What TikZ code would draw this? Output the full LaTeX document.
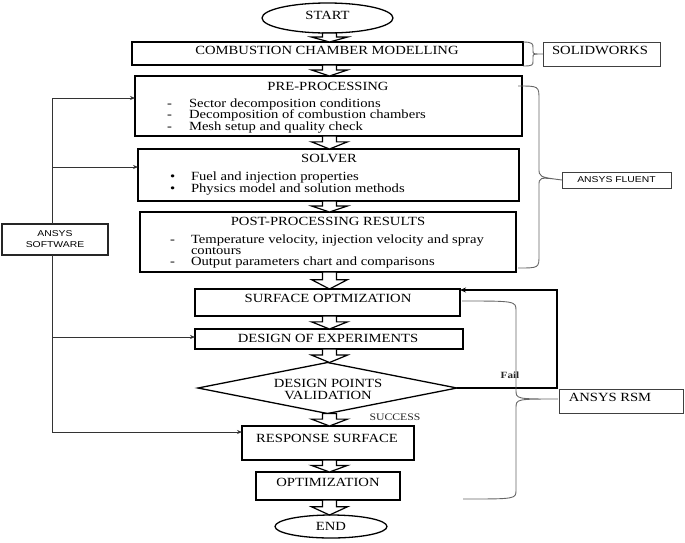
\documentclass[tikz,border=0pt]{standalone}
\usepackage{fontspec}
\setmainfont{Liberation Serif}[FakeStretch=1.17]
\newfontfamily\sansf{Liberation Sans}[FakeStretch=1.22]
\usetikzlibrary{arrows.meta,shapes.geometric,calc}
\begin{document}
\begin{tikzpicture}[x=1pt,y=-1pt,
  every node/.style={inner sep=0pt,outer sep=0pt},
  mainbox/.style={draw=black,line width=1.7pt,fill=white,rectangle},
  sidebox/.style={draw=black!75,line width=1pt,rectangle},
  ttl/.style={font=\fontsize{12.5}{12}\selectfont,text=black,text height=8.5pt,text depth=2.5pt},
  itm/.style={ttl,anchor=west},
  sans/.style={font=\sansf\fontsize{8.5}{11}\selectfont,text=black},
  barrow/.style={draw=black,line width=1.2pt,fill=white,line join=miter,
    to path={let \p1=(\tikztostart),\p2=(\tikztotarget),\n1={\y1-\y2} in
      ({\x1-7pt},\y1) -- ({\x1+7pt},\y1) -- ({\x1+7pt},{\y1-0.45*\n1}) -- ({\x1+18pt},{\y1-0.45*\n1})
      -- (\x1,\y2) -- ({\x1-18pt},{\y1-0.45*\n1}) -- ({\x1-7pt},{\y1-0.45*\n1}) -- cycle}},
  wire/.style={draw=black!80,line width=0.8pt},
  conn/.style={wire,-{Stealth[length=5pt,width=4pt]}},
  loopline/.style={draw=black,line width=1.5pt,-{Stealth[length=6pt,width=5pt]}},
  brace/.style={draw=black!60,line width=0.9pt},
]
\useasboundingbox (0,0) rectangle (685,542);

% main flow
\node[ellipse,draw,line width=1.3pt,minimum width=131,minimum height=30] (start) at (327.5,18) {};
\node[ttl] (startt) at (327.5,16) {START};

\node[mainbox,minimum width=391,minimum height=23] (ccm) at (327.5,53.5) {};
\node[ttl] (ccmt) at (327,51) {COMBUSTION CHAMBER MODELLING};

\node[mainbox,minimum width=387,minimum height=60] (pre) at (328.5,106) {};
\node[ttl] (pret) at (328,87) {PRE-PROCESSING};
\node[itm] (pred1) at (167,104) {-};
\node[itm] (pre1) at (189,104) {Sector decomposition conditions};
\node[itm] (pred2) at (167,115.5) {-};
\node[itm] (pre2) at (189,115.5) {Decomposition of combustion chambers};
\node[itm] (pred3) at (167,127) {-};
\node[itm] (pre3) at (189,127) {Mesh setup and quality check};

\node[mainbox,minimum width=381,minimum height=52] (solver) at (328.5,175) {};
\node[ttl] (solvert) at (329,159) {SOLVER};
\node[itm] (solb1) at (170,177) {\textbullet};
\node[itm] (sol1) at (191,177) {Fuel and injection properties};
\node[itm] (solb2) at (170,189) {\textbullet};
\node[itm] (sol2) at (191,189) {Physics model and solution methods};

\node[mainbox,minimum width=376,minimum height=60] (post) at (328,242) {};
\node[ttl] (postt) at (328,222) {POST-PROCESSING RESULTS};
\node[itm] (postd1) at (170,240) {-};
\node[itm] (post1) at (191,240) {Temperature velocity, injection velocity and spray};
\node[itm] (post1b) at (191,251) {contours};
\node[itm] (postd2) at (170,262) {-};
\node[itm] (post2) at (191,262) {Output parameters chart and comparisons};

\node[mainbox,minimum width=265,minimum height=27] (surf) at (327.5,302.5) {};
\node[ttl] (surft) at (328,299) {SURFACE OPTMIZATION};

\node[mainbox,minimum width=268,minimum height=20] (doe) at (329,339) {};
\node[ttl] (doet) at (328,339) {DESIGN OF EXPERIMENTS};

\node[diamond,draw,line width=1.3pt,fill=white,minimum width=259,minimum height=51] (dia) at (327.5,388) {};
\node[ttl] (diat1) at (328,384) {DESIGN POINTS};
\node[ttl] (diat2) at (328,396) {VALIDATION};

\node[mainbox,minimum width=172,minimum height=34] (resp) at (328,443) {};
\node[ttl] (respt) at (327,439) {RESPONSE SURFACE};

\node[mainbox,minimum width=144,minimum height=28] (opt) at (328,486) {};
\node[ttl] (optt) at (328,483) {OPTIMIZATION};

\node[ellipse,draw,line width=1.3pt,minimum width=112,minimum height=23] (end) at (331,526.5) {};
\node[ttl] (endt) at (331,527) {END};

% side boxes
\node[sidebox,minimum width=117,minimum height=24] (sw) at (601.5,54) {};
\node[ttl] (swt) at (600,51) {SOLIDWORKS};
\node[sidebox,minimum width=109,minimum height=16] (fluent) at (616.5,180) {};
\node[sans] (fluentt) at (616.5,180) {ANSYS FLUENT};
\node[sidebox,draw=black!85,line width=1.3pt,minimum width=106,minimum height=31] (software) at (55,239.5) {};
\node[sans,align=center] (softwaret) at (55,239) {ANSYS\\SOFTWARE};
\node[sidebox,minimum width=124,minimum height=24] (rsm) at (621,401) {};
\node[ttl] (rsmt) at (610,398) {ANSYS RSM};

\node[font=\bfseries\fontsize{9.5}{10}\selectfont,text=black!85] (fail) at (510,375) {Fail};
\node[font=\fontsize{10}{11}\selectfont,text=black!85] (succ) at (395,417) {SUCCESS};

% block arrows
\coordinate (ax) at (329.5,0);
\draw[barrow] (start.south -| ax) to (ccm.north -| ax);
\draw[barrow] (ccm.south -| ax) to (pre.north -| ax);
\draw[barrow] (pre.south -| ax) to (solver.north -| ax);
\draw[barrow] (solver.south -| ax) to (post.north -| ax);
\draw[barrow] (post.south -| ax) to (surf.north -| ax);
\draw[barrow] (surf.south -| ax) to (doe.north -| ax);
\draw[barrow] (doe.south -| ax) to (dia.north -| ax);
\draw[barrow] (dia.south -| ax) to (resp.north -| ax);
\draw[barrow] (resp.south -| ax) to (opt.north -| ax);
\draw[barrow] (opt.south -| ax) to (end.north -| ax);

% ANSYS software connectors
\coordinate (j1) at (52,98);
\coordinate (j2) at (52,167);
\coordinate (j3) at (52,337);
\coordinate (j4) at (52,432);
\draw[wire] (software.north -| j1) -- (j1);
\draw[wire] (software.south -| j1) -- (j4);
\draw[conn] (j1) -- (j1 -| pre.west);
\draw[conn] (j2) -- (j2 -| solver.west);
\draw[conn] (j3) -- (j3 -| doe.west);
\draw[conn] (j4) -- (j4 -| resp.west);

% fail loop
\coordinate (f1) at (557,388);
\coordinate (f2) at (557,290);
\draw[loopline] (dia.east) -- (dia.east -| f1) -- (f2) -- (f2 -| surf.east);

% braces
\draw[brace] (523,42) .. controls (533,42) and (533,44) .. (533,48) -- (533,51)
  .. controls (533,54) .. (sw.west) .. controls (533,54) .. (533,57) -- (533,61)
  .. controls (533,65) and (533,66) .. (523,66);
\draw[brace] (518,86) .. controls (539,86) .. (539,100) -- (539,168)
  .. controls (539,177) .. (fluent.west) .. controls (539,177) .. (539,186) -- (539,255)
  .. controls (539,268) .. (518,268);
\draw[brace] (462,301) .. controls (516,301) .. (516,311) -- (516,390)
  .. controls (516,399) .. (558,399) .. controls (516,399) .. (516,408) -- (516,490)
  .. controls (516,499) .. (463,499);
\end{tikzpicture}
\end{document}
